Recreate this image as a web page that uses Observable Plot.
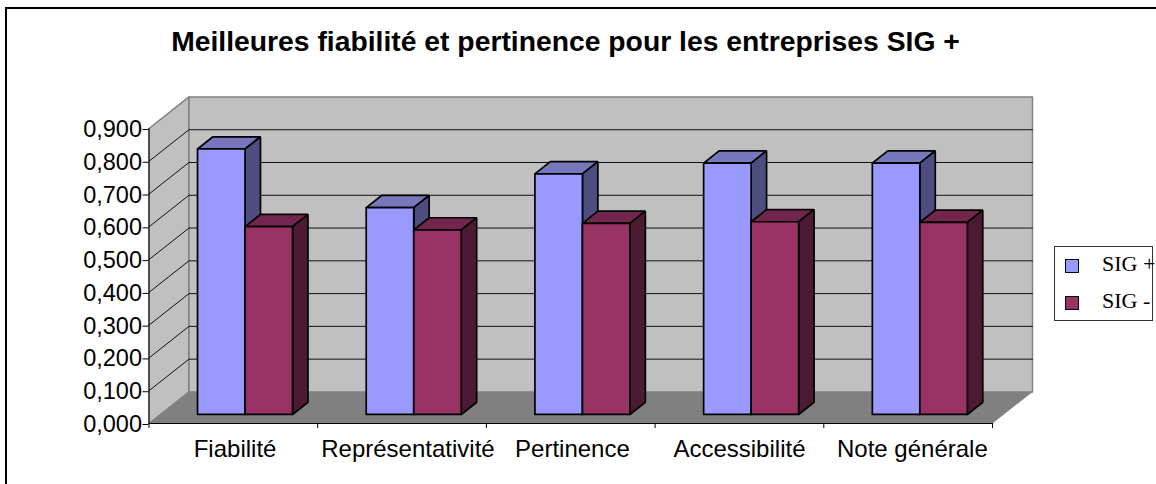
<!DOCTYPE html>
<html lang="fr">
<head>
<meta charset="utf-8">
<script src="https://cdn.jsdelivr.net/npm/d3@7"></script>
<script src="https://cdn.jsdelivr.net/npm/@observablehq/plot@0.6"></script>
<style>
  html, body { margin: 0; padding: 0; background: #fff; }
  #frame { position: relative; width: 1156px; height: 484px; overflow: hidden; background: #fff; }
  #frame svg { position: absolute; left: 0; top: 0; background: transparent; }
  #border { position: absolute; left: 5px; top: 7px; right: -4px; bottom: -4px; border: 2px solid #000; }
  #title { position: absolute; left: 0; top: 25px; width: 1131px; text-align: center; font: bold 28.3px "Liberation Sans", Arial, sans-serif; color: #000; white-space: nowrap; }
  #legend { position: absolute; left: 1054px; top: 246px; width: 97px; height: 73px; border: 1px solid #333; box-sizing: content-box; font: 22px "Liberation Serif", "Times New Roman", serif; color: #000; }
  .sw { position: absolute; left: 10px; width: 12px; height: 12px; border: 1px solid #000; }
  .lb { position: absolute; left: 47px; white-space: nowrap; }
</style>
</head>
<body>
<div id="frame">
  <div id="border"></div>
  <div id="title"></div>
  <div id="plot"></div>
  <div id="legend"></div>
</div>
<script>
const titleText = "Meilleures fiabilité et pertinence pour les entreprises SIG +";
const categories = ["Fiabilité", "Représentativité", "Pertinence", "Accessibilité", "Note générale"];
const labelAt = [0.51, 1.535, 2.51, 3.5, 4.525];
const seriesNames = ["SIG +", "SIG -"];
const sigPlus = [0.810, 0.631, 0.734, 0.767, 0.767];
const sigMinus = [0.573, 0.563, 0.583, 0.588, 0.586];
const yTicks = [0, 0.1, 0.2, 0.3, 0.4, 0.5, 0.6, 0.7, 0.8, 0.9];

const palette = [
  {front: "#9999ff", top: "#7777bb", side: "#4d4d80"},
  {front: "#993366", top: "#73264d", side: "#4d1a33"}
];

// Oblique projection, in data units: depth 0..1 shifts by these offsets.
const DX = 0.237, DY = 0.0963;
const P = (x, y, z) => ({x: x + z * DX, y: y + z * DY});
const N = categories.length, TOP = 0.9;
const poly = (face, color, pts) => [...pts, pts[0]].map(p => ({face, color, x: p.x, y: p.y}));

const walls = [
  ...poly("side", "#c0c0c0", [P(0,0,0), P(0,0,1), P(0,TOP,1), P(0,TOP,0)]),
  ...poly("back", "#c0c0c0", [P(0,0,1), P(N,0,1), P(N,TOP,1), P(0,TOP,1)])
];
const floor = poly("floor", "#808080", [P(0,0,0), P(N,0,0), P(N,0,1), P(0,0,1)]);

const grid = yTicks.filter(v => v > 0 && v < TOP).flatMap(v => [
  {g: v, ...P(0,v,0)}, {g: v, ...P(0,v,1)}, {g: v, ...P(N,v,1)}
]);

const barW = 0.2816, z0 = 0.286, z1 = 0.672;
const bars = [];
categories.forEach((c, i) => {
  [sigPlus, sigMinus].forEach((s, k) => {
    const v = s[i], x0 = i + 0.5 - barW + k * barW - (z0 + z1) / 2 * DX + 0.115, x1 = x0 + barW, col = palette[k];
    const id = `${i}-${k}`;
    bars.push(...poly(id + "top", col.top, [P(x0,v,z0), P(x1,v,z0), P(x1,v,z1), P(x0,v,z1)]));
    bars.push(...poly(id + "side", col.side, [P(x1,0,z0), P(x1,0,z1), P(x1,v,z1), P(x1,v,z0)]));
    bars.push(...poly(id + "front", col.front, [P(x0,0,z0), P(x1,0,z0), P(x1,v,z0), P(x0,v,z0)]));
  });
});

const comma = v => v.toFixed(3).replace(".", ",");

const chart = Plot.plot({
  width: 1156,
  height: 484,
  marginLeft: 148.5,
  marginRight: 164,
  marginTop: 128,
  marginBottom: 61,
  style: {fontFamily: '"Liberation Sans", Arial, sans-serif', background: "transparent", color: "#000"},
  x: {domain: [0, N]},
  y: {domain: [0, TOP]},
  color: {type: "identity"},
  marks: [
    Plot.line(walls, {x: "x", y: "y", z: "face", fill: "color", stroke: "#808080", strokeWidth: 1.5}),
    Plot.line(floor, {x: "x", y: "y", z: "face", fill: "color", stroke: "none"}),
    Plot.line(grid, {x: "x", y: "y", z: "g", stroke: "#111", strokeWidth: 1}),
    Plot.ruleY([0], {x1: 0, x2: N, stroke: "#000", strokeWidth: 1}),
    Plot.ruleX([0], {y1: 0, y2: TOP, stroke: "#000", strokeWidth: 1}),
    Plot.axisY({ticks: yTicks, tickFormat: comma, tickSize: 6, tickPadding: 1, fontSize: 23.5, dy: 1, stroke: "#000", label: null}),
    Plot.axisX({ticks: d3.range(0, N + 1), tickFormat: () => "", tickSize: 5, stroke: "#000", label: null}),
    Plot.axisX({ticks: labelAt, tickFormat: t => categories[labelAt.indexOf(t)], tickSize: 0, tickPadding: 14, fontSize: 24, dy: 2, label: null}),
    Plot.line(bars, {x: "x", y: "y", z: "face", fill: "color", stroke: "#000", strokeWidth: 1.7, strokeLinejoin: "miter"})
  ]
});
document.getElementById("plot").append(chart);

document.getElementById("title").textContent = titleText;
const legend = document.getElementById("legend");
seriesNames.forEach((name, k) => {
  const sw = document.createElement("div");
  sw.className = "sw";
  sw.style.top = (12 + k * 37) + "px";
  sw.style.background = palette[k].front;
  const lb = document.createElement("div");
  lb.className = "lb";
  lb.style.top = (4 + k * 37) + "px";
  lb.textContent = name;
  legend.append(sw, lb);
});
</script>
</body>
</html>
